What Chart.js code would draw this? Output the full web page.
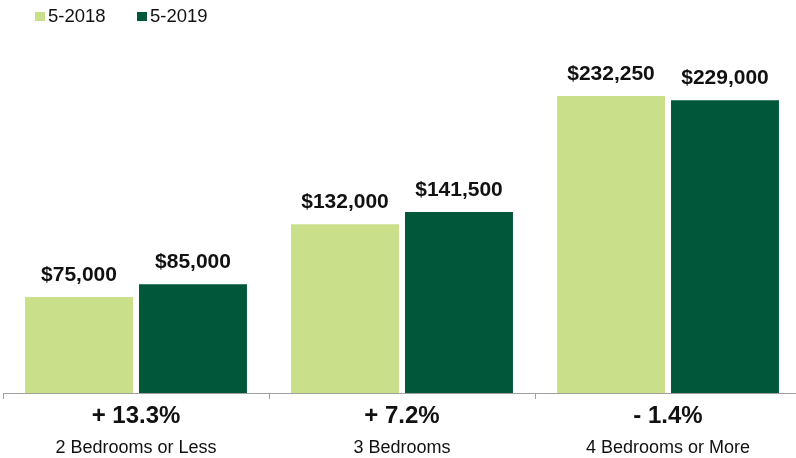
<!DOCTYPE html>
<html>
<head>
<meta charset="utf-8">
<script src="https://cdn.jsdelivr.net/npm/chart.js@4/dist/chart.umd.min.js"></script>
<style>
  body { margin: 0; background: #fff; }
  #wrap { position: relative; width: 796px; height: 458px; overflow: hidden; }
</style>
</head>
<body>
<div id="wrap"><canvas id="priceChart" width="801" height="458"></canvas></div>
<script>
// ===============================
// DONNEES
// ===============================
const categories = ['2 Bedrooms or Less', '3 Bedrooms', '4 Bedrooms or More'];
const changeLabels = ['+ 13.3%', '+ 7.2%', '- 1.4%'];
const seriesNames = ['5-2018', '5-2019'];
const values2018 = [75000, 132000, 232250];
const values2019 = [85000, 141500, 229000];
const colors = ['#c9df8a', '#00573a'];

const FONT = '"Liberation Sans", Arial, Helvetica, sans-serif';

const fmt = v => '$' + v.toLocaleString('en-US');

// legende dessinee a la main (boites carrees en haut a gauche)
const legendPlugin = {
  id: 'topLegend',
  afterDraw(chart) {
    const ctx = chart.ctx;
    ctx.save();
    ctx.font = `18.5px ${FONT}`;
    ctx.textBaseline = 'middle';
    let x = 35;
    chart.data.datasets.forEach(ds => {
      ctx.fillStyle = ds.backgroundColor;
      ctx.fillRect(x, 12, 10, 9);
      ctx.fillStyle = '#111';
      ctx.fillText(ds.label, x + 13, 16.5);
      x += 102;
    });
    ctx.restore();
  }
};

// valeurs au-dessus des barres + variation en %
const labelsPlugin = {
  id: 'valueLabels',
  afterDatasetsDraw(chart) {
    const ctx = chart.ctx;
    ctx.save();
    ctx.fillStyle = '#111';
    ctx.textAlign = 'center';
    ctx.textBaseline = 'alphabetic';
    ctx.font = `bold 21px ${FONT}`;
    chart.data.datasets.forEach((ds, i) => {
      chart.getDatasetMeta(i).data.forEach((bar, j) => {
        ctx.fillText(fmt(ds.data[j]), bar.x, bar.y - 16);
      });
    });
    const xs = chart.scales.x;
    ctx.font = `bold 24px ${FONT}`;
    ctx.textBaseline = 'middle';
    changeLabels.forEach((t, j) => {
      ctx.fillText(t, xs.getPixelForValue(j), xs.top + 23);
    });
    ctx.restore();
  }
};

new Chart(document.getElementById('priceChart'), {
  type: 'bar',
  data: {
    labels: categories,
    datasets: [
      { label: seriesNames[0], data: values2018, backgroundColor: colors[0] },
      { label: seriesNames[1], data: values2019, backgroundColor: colors[1] }
    ]
  },
  options: {
    responsive: false,
    animation: false,
    events: [],
    categoryPercentage: 0.857,
    barPercentage: 0.947,
    layout: { padding: { top: 35, left: 3, right: 0, bottom: 0 } },
    plugins: {
      legend: { display: false },
      tooltip: { enabled: false }
    },
    scales: {
      x: {
        afterFit: scale => { scale.height = 65; },
        grid: {
          offset: true,
          drawOnChartArea: false,
          drawTicks: true,
          tickLength: 6,
          color: '#a0a0a0'
        },
        border: { color: '#a0a0a0', width: 1 },
        ticks: {
          color: '#111',
          font: { family: FONT, size: 18 },
          padding: 38,
          maxRotation: 0
        }
      },
      y: {
        display: false,
        min: 0,
        max: 280000
      }
    }
  },
  plugins: [legendPlugin, labelsPlugin]
});
</script>
</body>
</html>
